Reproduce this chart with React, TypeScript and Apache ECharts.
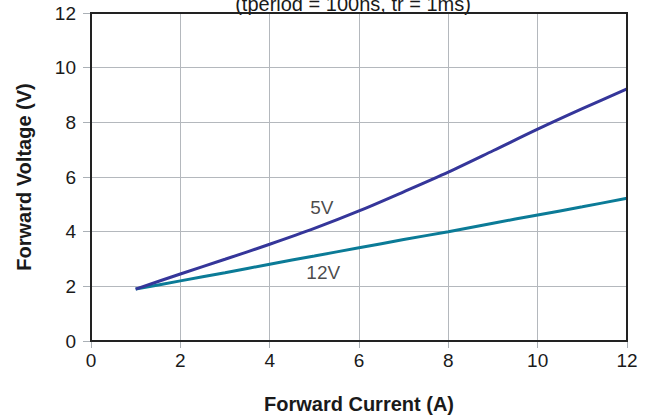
import React, { useEffect, useRef } from "react";
import * as echarts from "echarts";

const current = [1, 2, 3, 4, 5, 6, 7, 8, 9, 10, 11, 12];
const v5 = [1.9, 2.45, 2.99, 3.54, 4.12, 4.76, 5.46, 6.18, 6.96, 7.75, 8.5, 9.22];
const v12 = [1.9, 2.2, 2.5, 2.81, 3.11, 3.41, 3.71, 4.0, 4.31, 4.61, 4.91, 5.22];
const xTicks = [0, 2, 4, 6, 8, 10, 12];
const yTicks = [0, 2, 4, 6, 8, 10, 12];
const seriesNames = ["5V", "12V"];
const labelPositions = [
  [5.17, 4.87],
  [5.2, 2.52],
];

export default function App() {
  const ref = useRef<HTMLDivElement>(null);
  useEffect(() => {
    const chart = echarts.init(ref.current!, null, { renderer: "svg" });
    const font = "Liberation Sans, Arial, sans-serif";
    const ink = "#1a1a1a";
    chart.setOption({
      animation: false,
      backgroundColor: "#ffffff",
      textStyle: { fontFamily: font },
      title: {
        text: "(tperiod = 100ns, tr = 1ms)",
        left: 348,
        textAlign: "center",
        top: -11,
        textStyle: { fontSize: 20, fontWeight: "normal", color: ink, fontFamily: font },
      },
      grid: { left: 91, right: 28, top: 13, bottom: 79, containLabel: false },
      xAxis: {
        type: "value",
        min: 0,
        max: 12,
        interval: 2,
        name: "Forward Current (A)",
        nameLocation: "middle",
        nameGap: 53,
        nameTextStyle: { fontSize: 20, fontWeight: "bold", color: ink, fontFamily: font },
        axisLine: { show: true, lineStyle: { color: "#222", width: 2 } },
        axisTick: { show: true, length: 7, lineStyle: { color: "#aab0b6", width: 1 } },
        axisLabel: {
          fontSize: 19,
          color: ink,
          margin: 10,
          fontFamily: font,
          formatter: (v: number) => (xTicks.includes(v) ? String(v) : ""),
        },
        splitLine: { show: true, lineStyle: { color: "#b4b8bd", width: 1 } },
      },
      yAxis: {
        type: "value",
        min: 0,
        max: 12,
        interval: 2,
        name: "Forward Voltage (V)",
        nameLocation: "middle",
        nameGap: 57,
        nameTextStyle: { fontSize: 20, fontWeight: "bold", color: ink, fontFamily: font },
        axisLine: { show: true, lineStyle: { color: "#222", width: 2 } },
        axisTick: { show: true, length: 8, lineStyle: { color: "#aab0b6", width: 1 } },
        axisLabel: {
          fontSize: 19,
          color: ink,
          margin: 15,
          fontFamily: font,
          formatter: (v: number) => (yTicks.includes(v) ? String(v) : ""),
        },
        splitLine: { show: true, lineStyle: { color: "#b4b8bd", width: 1 } },
      },
      graphic: [
        {
          type: "rect",
          shape: { x: 91, y: 13, width: 536, height: 328 },
          style: { fill: "none", stroke: "#222", lineWidth: 2 },
          silent: true,
          z: 10,
        },
      ],
      series: [
        {
          name: seriesNames[0],
          type: "line",
          smooth: 0.3,
          symbol: "none",
          data: current.map((c, i) => [c, v5[i]]),
          lineStyle: { color: "#35369a", width: 3 },
          z: 5,
        },
        {
          name: seriesNames[1],
          type: "line",
          smooth: 0.3,
          symbol: "none",
          data: current.map((c, i) => [c, v12[i]]),
          lineStyle: { color: "#0b7b97", width: 3 },
          z: 4,
        },
        {
          type: "scatter",
          symbolSize: 1,
          itemStyle: { color: "rgba(0,0,0,0)" },
          silent: true,
          z: 6,
          data: labelPositions.map((p, i) => ({ value: p, name: seriesNames[i] })),
          label: {
            show: true,
            position: "inside",
            formatter: (p: any) => p.name,
            fontSize: 19,
            color: ink,
            fontFamily: font,
          },
        },
      ],
    });
    return () => chart.dispose();
  }, []);
  return (
    <div
      ref={ref}
      style={{ position: "fixed", left: 0, top: 0, width: 655, height: 420 }}
    />
  );
}
